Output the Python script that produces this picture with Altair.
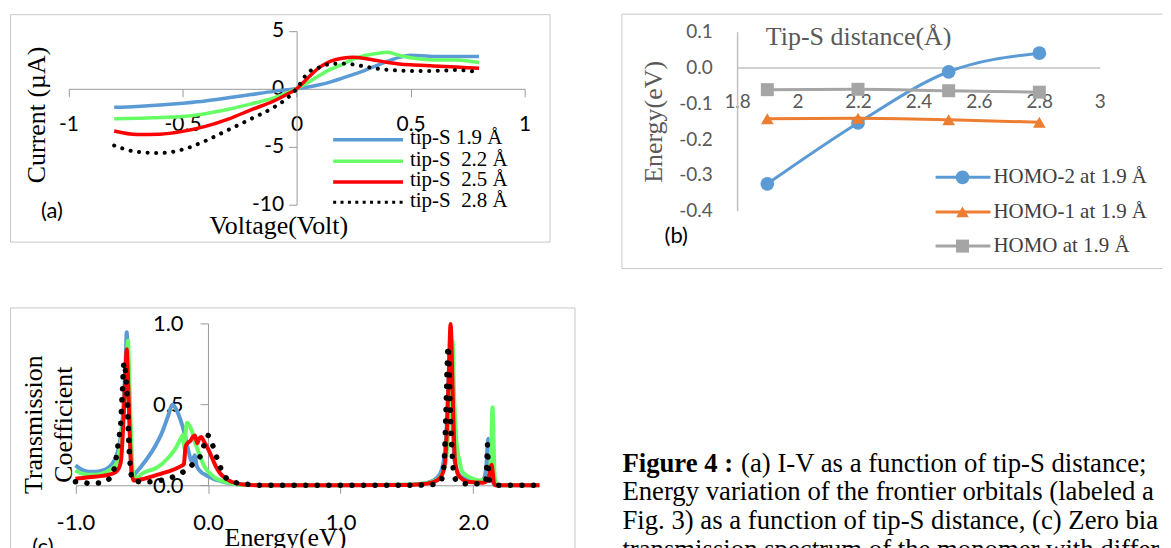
import altair as alt
import pandas as pd

# ---------------- panel (a): I-V curves ----------------
iv_series = ["tip-S 1.9 Å", "tip-S \u00a02.2 Å", "tip-S \u00a02.5 Å", "tip-S \u00a02.8 Å"]
iv_voltage = [-0.8, -0.7, -0.6, -0.5, -0.4, -0.3, -0.2, -0.1, -0.05, 0.0,
              0.05, 0.1, 0.15, 0.2, 0.25, 0.3, 0.35, 0.4, 0.45, 0.5, 0.6, 0.7, 0.8]
iv_19 = [-1.6, -1.52, -1.4, -1.24, -1.05, -0.78, -0.5, -0.22, -0.1, 0.0,
         0.15, 0.35, 0.6, 0.92, 1.25, 1.6, 2.0, 2.4, 2.72, 2.9, 2.8, 2.8, 2.8]
iv_22 = [-2.59, -2.55, -2.47, -2.39, -2.15, -1.77, -1.3, -0.78, -0.42, 0.0,
         0.55, 1.15, 1.7, 2.1, 2.58, 2.88, 3.05, 3.15, 2.9, 2.68, 2.5, 2.5, 2.27]
iv_25 = [-3.65, -3.95, -3.92, -3.68, -3.25, -2.62, -1.82, -1.05, -0.55, 0.0,
         0.95, 1.85, 2.4, 2.65, 2.72, 2.62, 2.45, 2.28, 2.15, 2.07, 1.98, 1.88, 1.78]
iv_28 = [-4.9, -5.45, -5.55, -5.25, -4.5, -3.55, -2.6, -1.6, -0.95, 0.0,
         1.4, 1.85, 2.15, 2.18, 2.1, 1.92, 1.75, 1.64, 1.58, 1.55, 1.55, 1.62, 1.43]
iv_xticks = [-1, -0.5, 0, 0.5, 1]
iv_yticks = [-10, -5, 0, 5]

# ---------------- panel (b): orbital energies ----------------
orb_series = ["HOMO-2 at 1.9 Å", "HOMO-1 at 1.9 Å", "HOMO at 1.9 Å"]
tip_dist = [1.9, 2.2, 2.5, 2.8]
e_homo2 = [-0.325, -0.155, -0.012, 0.040]
e_homo1 = [-0.143, -0.142, -0.146, -0.153]
e_homo = [-0.062, -0.061, -0.065, -0.069]
orb_xticks = [1.8, 2, 2.2, 2.4, 2.6, 2.8, 3]
orb_yticks = [-0.4, -0.3, -0.2, -0.1, 0.0, 0.1]

# ---------------- panel (c): transmission ----------------
t19_e = [-1.0, -0.95, -0.9, -0.85, -0.8, -0.75, -0.72, -0.7, -0.68, -0.66, -0.645, -0.63, -0.62, -0.613,
         -0.605, -0.595, -0.585, -0.575, -0.565, -0.55, -0.52, -0.5, -0.45, -0.4, -0.35, -0.3, -0.27,
         -0.24, -0.21, -0.18, -0.15, -0.12, -0.10, -0.085, -0.05, -0.02, 0.0, 0.05, 0.1, 0.15, 0.2, 0.3,
         0.5, 1.0, 1.5, 1.6, 1.7, 1.75, 1.78, 1.8, 1.81, 1.825, 1.84, 1.86, 1.9, 1.95, 2.0, 2.05, 2.08,
         2.1, 2.113, 2.125, 2.14, 2.155, 2.17, 2.5]
t19_t = [0.123, 0.095, 0.083, 0.083, 0.09, 0.11, 0.135, 0.164, 0.21, 0.29, 0.40, 0.6, 0.8, 0.945,
         0.8, 0.5, 0.2, 0.06, 0.05, 0.07, 0.10, 0.12, 0.175, 0.24, 0.32, 0.43, 0.497,
         0.47, 0.41, 0.33, 0.22, 0.145, 0.185, 0.12, 0.08, 0.065, 0.055, 0.037, 0.025, 0.015, 0.008, 0.003,
         0.0, 0.0, 0.003, 0.008, 0.03, 0.07, 0.16, 0.35, 0.55, 0.82, 0.5, 0.15, 0.06, 0.035, 0.025, 0.025, 0.04,
         0.12, 0.287, 0.15, 0.06, 0.01, 0.0, 0.0]
t22_e = [-1.0, -0.95, -0.9, -0.85, -0.8, -0.75, -0.7, -0.68, -0.66, -0.645, -0.63, -0.615, -0.603, -0.595,
         -0.583, -0.57, -0.558, -0.53, -0.508, -0.45, -0.408, -0.35, -0.307, -0.26, -0.232, -0.205, -0.19,
         -0.177, -0.168, -0.157, -0.14, -0.119, -0.1, -0.081, -0.05, -0.031, 0.0, 0.019, 0.05, 0.094, 0.15,
         0.194, 0.3, 0.5, 1.0, 1.5, 1.6, 1.7, 1.75, 1.79, 1.81, 1.83, 1.845, 1.855, 1.875, 1.9, 1.913, 1.95,
         2.0, 2.05, 2.1, 2.125, 2.135, 2.146, 2.155, 2.163, 2.18, 2.5]
t22_t = [0.092, 0.072, 0.065, 0.065, 0.072, 0.09, 0.123, 0.16, 0.25, 0.36, 0.5, 0.72, 0.893, 0.7,
         0.37, 0.12, 0.04, 0.05, 0.065, 0.09, 0.10, 0.13, 0.164, 0.21, 0.246, 0.29, 0.31,
         0.226, 0.33, 0.386, 0.37, 0.33, 0.27, 0.226, 0.16, 0.123, 0.085, 0.07, 0.048, 0.03, 0.017,
         0.01, 0.003, 0.0, 0.0, 0.003, 0.008, 0.025, 0.05, 0.13, 0.3, 0.65, 0.893, 0.6, 0.267, 0.14, 0.092, 0.06,
         0.04, 0.03, 0.04, 0.07, 0.2, 0.482, 0.25, 0.05, 0.0, 0.0]
t25_e = [-1.0, -0.9, -0.8, -0.75, -0.7, -0.67, -0.655, -0.646, -0.635, -0.622, -0.613, -0.605, -0.595,
         -0.588, -0.575, -0.563, -0.52, -0.483, -0.42, -0.357, -0.29, -0.232, -0.194, -0.182, -0.169,
         -0.155, -0.132, -0.113, -0.099, -0.081, -0.065, -0.051, -0.03, -0.006, 0.02, 0.044, 0.07, 0.094,
         0.13, 0.169, 0.22, 0.27, 0.4, 1.0, 1.5, 1.6, 1.7, 1.75, 1.78, 1.8, 1.815, 1.83, 1.845, 1.855,
         1.862, 1.88, 1.9, 1.975, 2.075, 2.11, 2.125, 2.138, 2.148, 2.158, 2.17, 2.5]
t25_t = [0.04, 0.05, 0.058, 0.065, 0.08, 0.11, 0.16, 0.267, 0.45, 0.7, 0.84, 0.7, 0.45,
         0.267, 0.08, 0.03, 0.033, 0.04, 0.055, 0.071, 0.088, 0.107, 0.123, 0.13, 0.24,
         0.26, 0.275, 0.3, 0.308, 0.26, 0.29, 0.298, 0.27, 0.236, 0.19, 0.144, 0.1, 0.071,
         0.045, 0.025, 0.012, 0.005, 0.0, 0.0, 0.002, 0.006, 0.02, 0.045, 0.1, 0.3, 0.65, 0.996, 0.6, 0.3,
         0.164, 0.08, 0.051, 0.02, 0.016, 0.03, 0.08, 0.127, 0.08, 0.01, 0.0, 0.0]
t28_e = [-1.0, -0.96, -0.9, -0.87, -0.82, -0.78, -0.74, -0.72, -0.7, -0.683, -0.67, -0.658, -0.646,
         -0.633, -0.62, -0.608, -0.6, -0.59, -0.578, -0.563, -0.483, -0.395, -0.307, -0.232, -0.157,
         -0.111, -0.062, -0.031, 0.0, 0.03, 0.059, 0.087, 0.119, 0.194, 0.28, 0.4, 1.0, 1.5, 1.7, 1.75,
         1.77, 1.785, 1.795, 1.805, 1.812, 1.82, 1.828, 1.838, 1.85, 1.865, 1.9, 1.95, 2.05, 2.09, 2.1,
         2.105, 2.108, 2.112, 2.118, 2.13, 2.15, 2.2, 2.5]
t28_t = [0.022, 0.02, 0.012, 0.01, 0.015, 0.02, 0.045, 0.071, 0.13, 0.226, 0.3, 0.39, 0.575,
         0.76, 0.68, 0.513, 0.33, 0.16, 0.06, 0.03, 0.02, 0.025, 0.04, 0.062, 0.10,
         0.133, 0.174, 0.246, 0.308, 0.26, 0.189, 0.127, 0.062, 0.02, 0.008, 0.0, 0.0, 0.0, 0.005, 0.02,
         0.06, 0.2, 0.45, 0.75, 0.86, 0.7, 0.45, 0.25, 0.1, 0.04, 0.015, 0.01, 0.01, 0.02, 0.06,
         0.17, 0.25, 0.17, 0.05, 0.02, 0.01, 0.0, 0.0]
tr_xticks = [-1, 0, 1, 2]
tr_yticks = [0, 0.5, 1]

# ---------------- caption ----------------
caption_bold = "Figure 4 :"
caption_lines = [
    "(a) I-V as a function of tip-S distance; (b)",
    "Energy variation of the frontier orbitals (labeled as in",
    "Fig. 3) as a function of tip-S distance, (c) Zero bias",
    "transmission spectrum of the monomer with different",
]

# ---------------- styling ----------------
SERIF = "Liberation Serif"
SANS = "Lato"
FRAME = "#c8c8c8"
AXC = "#9a9a9a"
MINUS_FIX = "replace(datum.label, '\u2212', '-')"
IV_COLORS = ["#5B9BD5", "#66FF66", "#FF0000", "#000000"]
ORB_COLORS = ["#5B9BD5", "#ED7D31", "#A5A5A5"]
ORB_SHAPES = ["circle", "triangle-up", "square"]


def lin(domain, rng):
    return alt.Scale(domain=domain, range=rng, nice=False, zero=False)


def note(text, x, y, size, font, color="black", align="center", baseline="middle",
         weight="normal", limit=0):
    kw = dict(font=font, fontSize=size, color=color, align=align, baseline=baseline,
              fontWeight=weight)
    if limit:
        kw["limit"] = limit
        kw["ellipsis"] = "\u200b"
    return alt.Chart(pd.DataFrame({"t": [text]})).mark_text(**kw).encode(
        text="t:N", x=alt.value(x), y=alt.value(y))


def edge(x, x2, y, y2):
    return alt.Chart(pd.DataFrame({"e": [0]})).mark_rule(color=FRAME, strokeWidth=1).encode(
        x=alt.value(x), x2=alt.value(x2), y=alt.value(y), y2=alt.value(y2))


# ================= panel (a) =================
A_W, A_H = 541, 228
a_xs = lin([-1, 1], [58.7, 516])
a_ys = lin([-10, 5], [190.8, 16.8])
a_x0, a_y0 = 287.35, 74.8
a_xaxis = alt.Axis(values=iv_xticks, labelExpr="toString(datum.value)", offset=-(A_H - a_y0),
                   grid=False, domainColor=AXC, tickColor=AXC, tickSize=8, labelPadding=28,
                   labelBaseline="middle", labelFlush=False, labelOverlap=False,
                   labelFont=SANS, labelFontSize=21, labelColor="black",
                   title="Voltage(Volt)", titleFont=SERIF, titleFontSize=26,
                   titleFontWeight="normal", titleColor="black", titleX=269, titleY=145,
                   titleAlign="center", titleBaseline="alphabetic")
a_yaxis = alt.Axis(values=iv_yticks, labelExpr="toString(datum.value)", offset=-a_x0, grid=False,
                   domainColor=AXC, tickColor=AXC, tickSize=8, labelPadding=5,
                   labelFlush=False, labelOverlap=False,
                   labelFont=SANS, labelFontSize=21, labelColor="black",
                   title="Current (µA)", titleFont=SERIF, titleFontSize=26,
                   titleFontWeight="normal", titleColor="black", titleAngle=270,
                   titleX=-260.35, titleY=100.5, titleAlign="center", titleBaseline="middle")

df_a = pd.DataFrame({"V": iv_voltage, "c0": iv_19, "c1": iv_22, "c2": iv_25, "c3": iv_28})
a_layers = []
for i in range(4):
    if i < 3:
        mk = alt.Chart(df_a).mark_line(color=IV_COLORS[i], strokeWidth=3.5, interpolate="monotone")
    else:
        mk = alt.Chart(df_a).mark_line(color=IV_COLORS[i], strokeWidth=4, interpolate="monotone",
                                       strokeDash=[0.1, 8.5], strokeCap="round")
    a_layers.append(mk.encode(x=alt.X("V:Q", scale=a_xs, axis=a_xaxis),
                              y=alt.Y(f"c{i}:Q", scale=a_ys, axis=a_yaxis)))
leg_a_rows = [125.8, 147.5, 168.2, 188.5]
for i in range(4):
    kw = dict(color=IV_COLORS[i], strokeWidth=3.5)
    if i == 3:
        kw = dict(color=IV_COLORS[i], strokeWidth=3, strokeDash=[3, 4.4])
    a_layers.append(alt.Chart(pd.DataFrame({"s": [iv_series[i]]})).mark_rule(**kw).encode(
        x=alt.value(324), x2=alt.value(394), y=alt.value(leg_a_rows[i])))
    a_layers.append(note(iv_series[i], 401, leg_a_rows[i] - 1.5, 21, SERIF, align="left"))
a_layers.append(note("(a)", 42, 197, 22, SANS))
panel_a = alt.layer(*a_layers).properties(
    width=A_W, height=A_H, view=alt.ViewBackground(stroke=FRAME, strokeWidth=1))

# ================= panel (b) =================
B_W, B_H = 542, 255
b_xs = lin([1.8, 3.0], [115.5, 479.1])
b_ys = lin([-0.4, 0.1], [197, 17.5])
b_y0 = 53.4
GRAYTXT = "#595959"
b_xaxis = alt.Axis(values=orb_xticks, labelExpr="toString(datum.value)", offset=-(B_H - b_y0),
                   grid=False, ticks=False, domainColor="#c0c0c0", domainWidth=1.5,
                   labelPadding=34, labelBaseline="middle", labelFlush=False, labelOverlap=False,
                   labelFont=SANS, labelFontSize=19, labelColor=GRAYTXT,
                   title="Tip-S distance(Å)", titleFont=SERIF, titleFontSize=26,
                   titleFontWeight="normal", titleColor=GRAYTXT, titleX=236.85, titleY=-22.9,
                   titleAlign="center", titleBaseline="alphabetic")
b_yaxis = alt.Axis(values=orb_yticks, format=".1f", labelExpr=MINUS_FIX, offset=-115.5,
                   grid=False, ticks=False, domainColor="#c0c0c0", domainWidth=1.5,
                   labelPadding=25, labelFlush=False, labelOverlap=False,
                   labelFont=SANS, labelFontSize=19, labelColor=GRAYTXT,
                   title="Energy(eV)", titleFont=SERIF, titleFontSize=26,
                   titleFontWeight="normal", titleColor=GRAYTXT, titleAngle=270,
                   titleX=-84, titleY=107.5, titleAlign="center", titleBaseline="middle")
df_b = pd.DataFrame({"d": tip_dist, "e0": e_homo2, "e1": e_homo1, "e2": e_homo})
# frame of (b): the right side runs off the page in the reference, so only three edges
b_layers = [edge(0, B_W, 0, 0), edge(0, 0, 0, B_H), edge(0, B_W, B_H, B_H)]
for i in range(3):
    enc = dict(x=alt.X("d:Q", scale=b_xs, axis=b_xaxis), y=alt.Y(f"e{i}:Q", scale=b_ys, axis=b_yaxis))
    b_layers.append(alt.Chart(df_b).mark_line(color=ORB_COLORS[i], strokeWidth=3,
                                              interpolate="monotone").encode(**enc))
    b_layers.append(alt.Chart(df_b).mark_point(color=ORB_COLORS[i], filled=True, opacity=1,
                                               shape=ORB_SHAPES[i],
                                               size=[190, 160, 170][i]).encode(**enc))
leg_b_rows = [163.5, 198.2, 232.5]
for i in range(3):
    b_layers.append(alt.Chart(pd.DataFrame({"s": [orb_series[i]]})).mark_rule(
        color=ORB_COLORS[i], strokeWidth=3).encode(
        x=alt.value(314.5), x2=alt.value(369.5), y=alt.value(leg_b_rows[i])))
    b_layers.append(alt.Chart(pd.DataFrame({"s": [orb_series[i]]})).mark_point(
        color=ORB_COLORS[i], filled=True, opacity=1, shape=ORB_SHAPES[i],
        size=[190, 160, 170][i]).encode(x=alt.value(341.5), y=alt.value(leg_b_rows[i])))
    b_layers.append(note(orb_series[i], 372.5, leg_b_rows[i], 21, SERIF, color="#404040",
                         align="left"))
b_layers.append(note("(b)", 54.5, 222.5, 22, SANS))
panel_b = alt.layer(*b_layers).properties(
    width=B_W, height=B_H, view=alt.ViewBackground(strokeOpacity=0))

# ================= panel (c) =================
C_W, C_H = 566, 250
c_xs = lin([-1, 2.5], [65.6, 530.8])
c_ys = lin([0, 1], [178.3, 16])
c_xaxis = alt.Axis(values=tr_xticks, format=".1f", labelExpr=MINUS_FIX, offset=-(C_H - 178.3),
                   grid=False, domainColor=AXC, tickColor=AXC, tickSize=8, labelPadding=29,
                   labelBaseline="middle", labelFlush=False, labelOverlap=False,
                   labelFont=SANS, labelFontSize=22, labelColor="black",
                   title="Energy(eV)", titleFont=SERIF, titleFontSize=26,
                   titleFontWeight="normal", titleColor="black", titleX=275.7, titleY=60,
                   titleAlign="center", titleBaseline="alphabetic")
c_yaxis = alt.Axis(values=tr_yticks, format=".1f", offset=-198.5, grid=False,
                   domainColor=AXC, tickColor=AXC, tickSize=8, labelPadding=17,
                   labelFlush=False, labelOverlap=False,
                   labelFont=SANS, labelFontSize=22, labelColor="black",
                   title=["Transmission", "Coefficient"], titleFont=SERIF, titleFontSize=26,
                   titleFontWeight="normal", titleColor="black", titleAngle=270,
                   titleLineHeight=30, titleX=-175, titleY=117, titleAlign="center",
                   titleBaseline="middle")
c_sets = [(t19_e, t19_t), (t22_e, t22_t), (t25_e, t25_t), (t28_e, t28_t)]
c_layers = []
for i, (ev, tv) in enumerate(c_sets):
    df = pd.DataFrame({"E": ev, "T": tv})
    if i < 3:
        mk = alt.Chart(df).mark_line(color=IV_COLORS[i], strokeWidth=4, interpolate="monotone")
    else:
        mk = alt.Chart(df).mark_line(color="black", strokeWidth=5.5, interpolate="monotone",
                                     strokeDash=[0.1, 11.5], strokeCap="round")
    c_layers.append(mk.encode(x=alt.X("E:Q", scale=c_xs, axis=c_xaxis),
                              y=alt.Y("T:Q", scale=c_ys, axis=c_yaxis)))
c_layers.append(note("(c)", 33, 240, 22, SANS))
panel_c = alt.layer(*c_layers).properties(
    width=C_W, height=C_H, view=alt.ViewBackground(stroke=FRAME, strokeWidth=1))

# ================= caption =================
D_W = 541
CAP_SIZE = 26.8
cap_base = [164.5, 193.5, 222.5, 251.5]
d_layers = [note(caption_bold, 0, cap_base[0], CAP_SIZE, SERIF, align="left",
                 baseline="alphabetic", weight="bold")]
for k, line in enumerate(caption_lines):
    x0 = 119 if k == 0 else 0
    d_layers.append(note(line, x0, cap_base[k], CAP_SIZE, SERIF, align="left",
                         baseline="alphabetic", limit=D_W - x0))
panel_d = alt.layer(*d_layers).properties(
    width=D_W, height=C_H, view=alt.ViewBackground(strokeOpacity=0))

chart = alt.vconcat(
    alt.hconcat(panel_a, panel_b, spacing=70.5),
    alt.hconcat(panel_c, panel_d, spacing=47),
    spacing=37,
).properties(
    padding={"left": 1, "top": 4.5, "right": 0, "bottom": 0}
).configure(background="white")

chart.save("out.html", embed_options={"renderer": "svg", "actions": False})
